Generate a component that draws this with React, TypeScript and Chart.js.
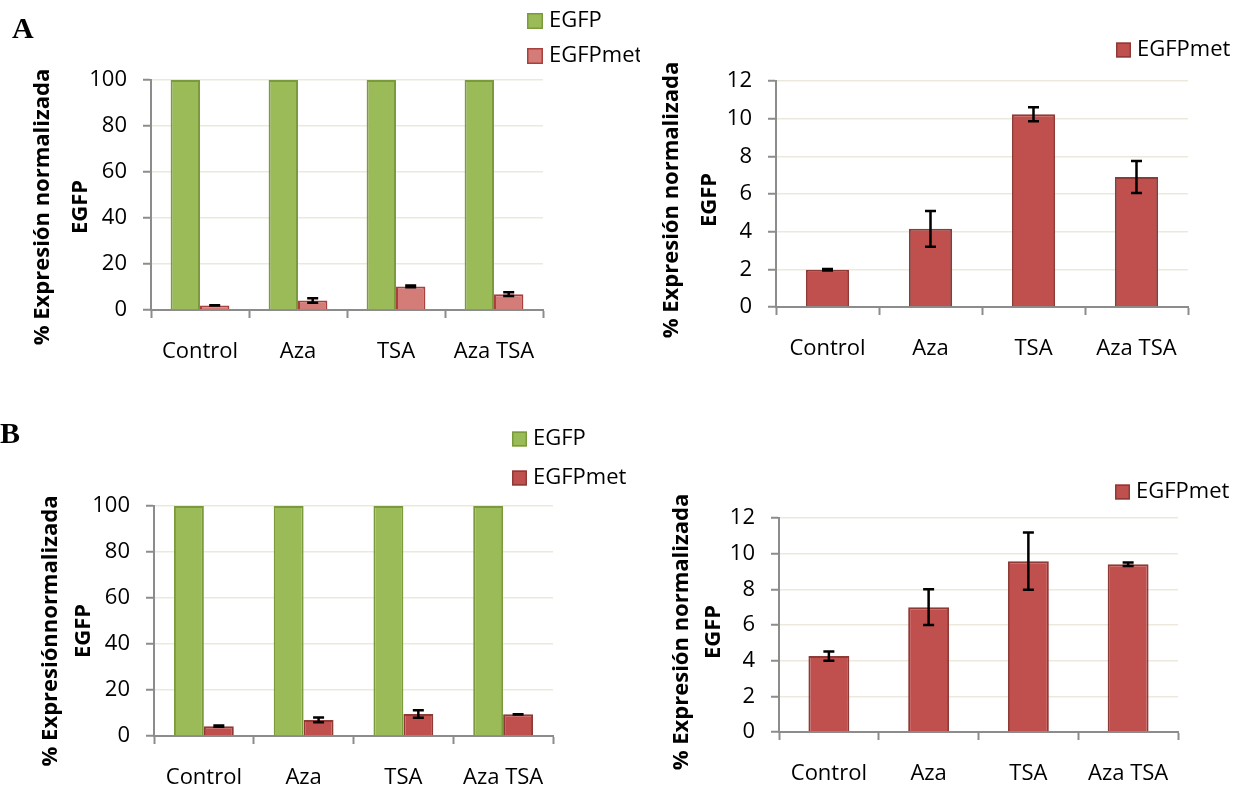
import React, { useEffect, useRef } from 'react';
import { Chart, registerables } from 'chart.js';

Chart.register(...registerables);

// ---------------- data ----------------
const categories = ['Control', 'Aza', 'TSA', 'Aza TSA'];

const egfpA = [100, 100, 100, 100];
const egfpMetA = [1.98, 4.15, 10.23, 6.9];
const egfpMetErrA = [0.04, 0.95, 0.37, 0.85];

const egfpB = [100, 100, 100, 100];
const egfpMetB = [4.26, 7.0, 9.58, 9.41];
const egfpMetErrB = [0.26, 1.0, 1.6, 0.1];

const pctTicks = [0, 20, 40, 60, 80, 100];
const smallTicks = [0, 2, 4, 6, 8, 10, 12];

const titleLinesA = ['% Expresión normalizada', 'EGFP'];
const titleLinesBLeft = ['% Expresiónnormalizada', 'EGFP'];
const titleLinesBRight = ['% Expresión normalizada', 'EGFP'];

// ---------------- styles ----------------
const GREEN = '#9BBB59';
const GREEN_BORDER = '#7A9A3C';
const RED = '#C0504D';
const RED_BORDER = '#8E3A37';
const RED_LIGHT = '#D47C78';
const RED_LIGHT_BORDER = '#A8413E';
const AXIS = '#8C8C8C';
const GRID = '#ECE9DC';
const FONT = 'Open Sans';

type DS = { label: string; data: number[]; errors?: number[]; fill: string; border: string };

type Spec = {
  left: number; top: number; width: number; height: number;
  area: { left: number; top: number; right: number; bottom: number };
  xH: number;
  datasets: DS[];
  ticks: number[];
  catPct: number;
  capW: number;
  titleLines: string[];
  titleXs: number[];
  titleY: number;
  legend: { boxX: number; textX: number; ys: number[]; box: number };
};

function Panel({ spec }: { spec: Spec }) {
  const ref = useRef<HTMLCanvasElement | null>(null);
  useEffect(() => {
    if (!ref.current) return;
    const s = spec;
    const tickFont = { family: FONT, size: 22 };

    const errorPlugin = {
      id: 'errBars',
      afterDatasetsDraw(chart: any) {
        const ctx = chart.ctx;
        const yScale = chart.scales.y;
        s.datasets.forEach((d, di) => {
          if (!d.errors) return;
          const meta = chart.getDatasetMeta(di);
          meta.data.forEach((el: any, i: number) => {
            const v = d.data[i];
            const e = d.errors![i];
            const yT = yScale.getPixelForValue(v + e);
            const yB = yScale.getPixelForValue(v - e);
            ctx.save();
            ctx.strokeStyle = '#000';
            ctx.lineWidth = 2.5;
            ctx.beginPath();
            ctx.moveTo(el.x, yT);
            ctx.lineTo(el.x, yB);
            ctx.moveTo(el.x - s.capW / 2, yT);
            ctx.lineTo(el.x + s.capW / 2, yT);
            ctx.moveTo(el.x - s.capW / 2, yB);
            ctx.lineTo(el.x + s.capW / 2, yB);
            ctx.stroke();
            ctx.restore();
          });
        });
      },
    };

    const legendPlugin = {
      id: 'customLegend',
      afterDraw(chart: any) {
        const ctx = chart.ctx;
        ctx.save();
        s.datasets.forEach((d, i) => {
          const y = s.legend.ys[i];
          const b = s.legend.box;
          ctx.fillStyle = d.fill;
          ctx.fillRect(s.legend.boxX, y - b / 2, b, b);
          ctx.strokeStyle = d.border;
          ctx.lineWidth = 1.5;
          ctx.strokeRect(s.legend.boxX + 0.75, y - b / 2 + 0.75, b - 1.5, b - 1.5);
          ctx.fillStyle = '#000';
          ctx.font = `22px "${FONT}"`;
          ctx.textAlign = 'left';
          ctx.textBaseline = 'middle';
          ctx.fillText(d.label, s.legend.textX, y);
        });
        ctx.restore();
      },
    };

    const titlePlugin = {
      id: 'yTitle',
      afterDraw(chart: any) {
        const ctx = chart.ctx;
        ctx.save();
        ctx.fillStyle = '#000';
        ctx.font = `bold 22px "${FONT}"`;
        ctx.textAlign = 'center';
        ctx.textBaseline = 'middle';
        s.titleLines.forEach((line, i) => {
          ctx.save();
          ctx.translate(s.titleXs[i], s.titleY);
          ctx.rotate(-Math.PI / 2);
          ctx.fillText(line, 0, 0);
          ctx.restore();
        });
        ctx.restore();
      },
    };

    const chart = new Chart(ref.current, {
      type: 'bar',
      data: {
        labels: categories,
        datasets: s.datasets.map((d) => ({
          label: d.label,
          data: d.data,
          backgroundColor: d.fill,
          borderColor: d.border,
          borderWidth: 2,
          categoryPercentage: s.catPct,
          barPercentage: 1,
        })),
      },
      options: {
        responsive: false,
        maintainAspectRatio: false,
        animation: false,
        devicePixelRatio: 1,
        layout: {
          padding: {
            left: 0,
            top: s.area.top,
            right: s.width - s.area.right,
            bottom: s.height - s.area.bottom - s.xH,
          },
        },
        plugins: {
          legend: { display: false },
          tooltip: { enabled: false },
          title: { display: false },
        },
        scales: {
          x: {
            type: 'category',
            offset: true,
            grid: {
              offset: true,
              drawOnChartArea: false,
              drawTicks: true,
              tickLength: 8,
              tickColor: AXIS,
              tickWidth: 2,
            },
            border: { display: true, color: AXIS, width: 2 },
            ticks: { font: tickFont, color: '#000', padding: 21, maxRotation: 0, autoSkip: false },
            afterFit: (sc: any) => { sc.height = s.xH; },
          },
          y: {
            min: s.ticks[0],
            max: s.ticks[s.ticks.length - 1],
            afterBuildTicks: (sc: any) => { sc.ticks = s.ticks.map((v) => ({ value: v })); },
            grid: {
              color: (c: any) => (c.tick && c.tick.value === 0 ? 'rgba(0,0,0,0)' : GRID),
              lineWidth: 1.5,
              drawTicks: true,
              tickLength: 8,
              tickColor: AXIS,
              tickWidth: 2,
            },
            border: { display: true, color: AXIS, width: 2 },
            ticks: { font: tickFont, color: '#000', padding: 16 },
            afterFit: (sc: any) => { sc.width = s.area.left; },
          },
        },
      } as any,
      plugins: [errorPlugin, legendPlugin, titlePlugin],
    });
    return () => chart.destroy();
  }, [spec]);

  return (
    <canvas
      ref={ref}
      width={spec.width}
      height={spec.height}
      style={{ position: 'absolute', left: spec.left, top: spec.top, width: spec.width, height: spec.height }}
    />
  );
}

const specAL: Spec = {
  left: 0, top: 0, width: 640, height: 395,
  area: { left: 151, top: 80, right: 543, bottom: 310 },
  xH: 60,
  datasets: [
    { label: 'EGFP', data: egfpA, fill: GREEN, border: GREEN_BORDER },
    { label: 'EGFPmet', data: egfpMetA, errors: egfpMetErrA, fill: RED_LIGHT, border: RED_LIGHT_BORDER },
  ],
  ticks: pctTicks,
  catPct: 0.6,
  capW: 11,
  titleLines: titleLinesA,
  titleXs: [43, 81],
  titleY: 207,
  legend: { boxX: 527, textX: 549, ys: [21, 56], box: 16 },
};

const specAR: Spec = {
  left: 640, top: 0, width: 596, height: 395,
  area: { left: 136, top: 81, right: 548, bottom: 307 },
  xH: 60,
  datasets: [
    { label: 'EGFPmet', data: egfpMetA, errors: egfpMetErrA, fill: RED, border: RED_BORDER },
  ],
  ticks: smallTicks,
  catPct: 0.42,
  capW: 11,
  titleLines: titleLinesA,
  titleXs: [32, 70],
  titleY: 200,
  legend: { boxX: 476, textX: 497, ys: [50], box: 15 },
};

const specBL: Spec = {
  left: 0, top: 395, width: 640, height: 396,
  area: { left: 154, top: 111, right: 553, bottom: 341 },
  xH: 50,
  datasets: [
    { label: 'EGFP', data: egfpB, fill: GREEN, border: GREEN_BORDER },
    { label: 'EGFPmet', data: egfpMetB, errors: egfpMetErrB, fill: RED, border: RED_BORDER },
  ],
  ticks: pctTicks,
  catPct: 0.6,
  capW: 11,
  titleLines: titleLinesBLeft,
  titleXs: [51, 84],
  titleY: 236,
  legend: { boxX: 512, textX: 533, ys: [44, 83], box: 15 },
};

const specBR: Spec = {
  left: 640, top: 395, width: 596, height: 396,
  area: { left: 139, top: 123, right: 538, bottom: 337 },
  xH: 50,
  datasets: [
    { label: 'EGFPmet', data: egfpMetB, errors: egfpMetErrB, fill: RED, border: RED_BORDER },
  ],
  ticks: smallTicks,
  catPct: 0.41,
  capW: 11,
  titleLines: titleLinesBRight,
  titleXs: [42, 74],
  titleY: 237,
  legend: { boxX: 475, textX: 496, ys: [97], box: 15 },
};

export default function App() {
  const letter: React.CSSProperties = {
    position: 'absolute',
    fontFamily: '"Liberation Serif", "Times New Roman", serif',
    fontWeight: 'bold',
    fontSize: 30,
    lineHeight: '30px',
    color: '#000',
  };
  return (
    <div style={{ position: 'absolute', left: 0, top: 0, width: 1236, height: 791, background: '#fff', overflow: 'hidden' }}>
      <Panel spec={specAL} />
      <Panel spec={specAR} />
      <Panel spec={specBL} />
      <Panel spec={specBR} />
      <div style={{ ...letter, left: 12, top: 13 }}>A</div>
      <div style={{ ...letter, left: 0, top: 418 }}>B</div>
    </div>
  );
}
